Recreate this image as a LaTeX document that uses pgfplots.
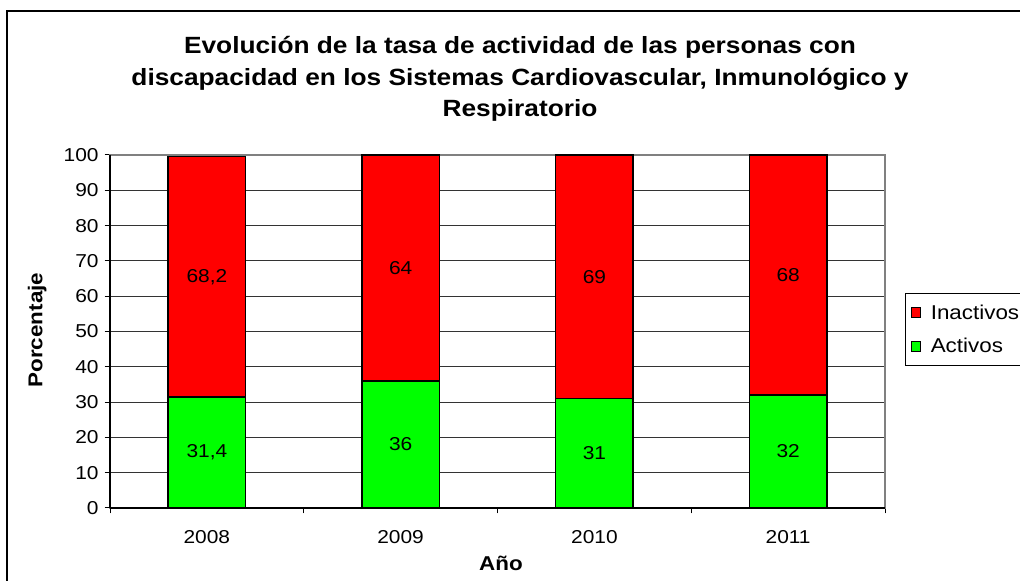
\documentclass[border=0pt]{standalone}
\usepackage{pgfplots}
\pgfplotsset{compat=1.18}
\usepackage{fontspec}
\setmainfont{Liberation Sans}[FakeStretch=1.12]
\definecolor{xlgreen}{RGB}{0,255,0}
\definecolor{xlred}{RGB}{255,0,0}
\begin{document}
\begin{tikzpicture}[x=0.75pt,y=0.75pt]
\useasboundingbox (0,0) rectangle (1020,581);
\draw[line width=1.5pt] (7,570) rectangle (1030,-10);
\node[align=center, font=\fontsize{17.6}{23.4}\selectfont\bfseries] at (520,502) {Evolución de la tasa de actividad de las personas con\\discapacidad en los Sistemas Cardiovascular, Inmunológico y\\Respiratorio};
\begin{axis}[
  at={(82.5pt,54.75pt)}, anchor=south west,
  width=581.25pt, height=264.75pt, scale only axis,
  ybar stacked, bar width=0.4,
  xmin=-0.5, xmax=3.5, ymin=0, ymax=100,
  ytick={0,10,...,100},
  xtick={-0.5,0.5,1.5,2.5,3.5}, xticklabels={},
  extra x ticks={0,1,2,3},
  extra x tick labels={2008,2009,2010,2011},
  extra x tick style={major tick length=0pt, tick label style={yshift=-13.5pt}},
  tick align=outside, major tick length=4pt,
  tick style={black, line width=0.75pt},
  xtick pos=bottom, ytick pos=left,
  ymajorgrids, major grid style={black!80, line width=0.75pt},
  axis line style={draw=gray, line width=1.2pt},
  /pgf/number format/assume math mode=true,
  tick label style={font=\fontsize{14}{16}\selectfont},
  yticklabel style={xshift=-1pt},
  xlabel={Año}, ylabel={Porcentaje},
  label style={font=\fontsize{15}{18}\selectfont\bfseries},
  xlabel style={at={(axis description cs:0.5045,-0.156)}, anchor=center},
  ylabel style={at={(axis description cs:-0.094,0.504)}, anchor=center, rotate=0},
  legend style={at={(axis description cs:1.0258,0.608)}, anchor=north west,
    draw=black, line width=0.75pt, font=\fontsize{15}{17}\selectfont,
    inner xsep=4pt, inner ysep=6pt, row sep=9pt, cells={anchor=west},
    nodes={inner xsep=7pt}},
  legend image code/.code={\draw[#1, line width=0.75pt] (0pt,-3.6pt) rectangle (7.2pt,3.6pt);},
  reverse legend,
]
\addplot[fill=xlgreen, draw=black, line width=1.1pt] coordinates {(0,31.4) (1,36) (2,31) (3,32)};
\addlegendentry{Activos}
\addplot[fill=xlred, draw=black, line width=1.1pt] coordinates {(0,68.2) (1,64) (2,69) (3,68)};
\addlegendentry{Inactivos}
\end{axis}
\begin{axis}[
  at={(82.5pt,54.75pt)}, anchor=south west,
  width=581.25pt, height=264.75pt, scale only axis,
  xmin=-0.5, xmax=3.5, ymin=0, ymax=100,
  axis x line=bottom, axis y line=left, xtick=\empty, ytick=\empty,
  axis line style={black, -, line width=0.9pt},
]
\addplot[only marks, mark=*, mark size=0pt, mark options={draw=none, fill=none},
  nodes near coords, point meta=explicit symbolic,
  nodes near coords style={anchor=center, font=\fontsize{14}{16}\selectfont, black}]
  coordinates {(0,15.7)[31,4] (1,18)[36] (2,15.5)[31] (3,16)[32]
               (0,65.5)[68,2] (1,68)[64] (2,65.5)[69] (3,66)[68]};
\end{axis}
\end{tikzpicture}
\end{document}
